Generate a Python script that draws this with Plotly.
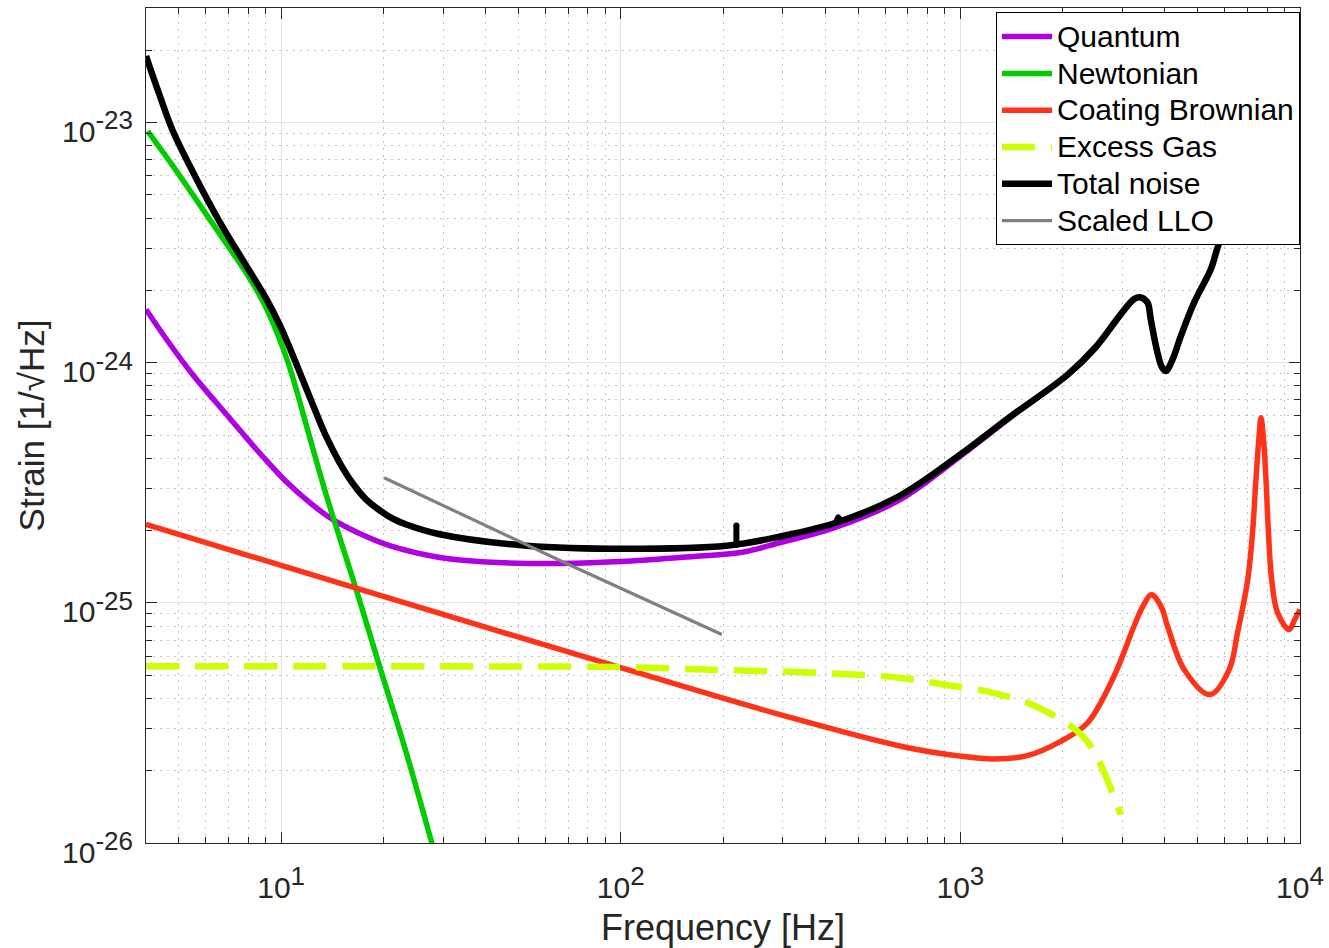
import numpy as np
import plotly.graph_objects as go

# ---------------- data ----------------
quantum_f = [4.0, 4.684, 5.487, 6.43, 7.53, 8.825, 10.34, 12.12, 14.2, 17.21, 20.87, 29.3, 40.2, 66.2, 104,
             164, 225, 294, 424, 665, 1000, 1400, 2065, 2500, 2965, 3246, 3396, 3556, 3636, 3805, 3920,
             4027, 4213, 4457, 4877, 5463, 5848, 7713, 10000]
quantum_h = [1.667e-24, 1.205e-24, 8.93e-25, 6.84e-25, 5.27e-25, 4.07e-25, 3.20e-25, 2.62e-25, 2.22e-25,
             1.93e-25, 1.73e-25, 1.545e-25, 1.48e-25, 1.46e-25, 1.49e-25, 1.56e-25, 1.62e-25, 1.78e-25,
             2.05e-25, 2.69e-25, 4.08e-25, 5.90e-25, 8.85e-25, 1.15e-24, 1.58e-24, 1.84e-24, 1.87e-24,
             1.78e-24, 1.51e-24, 1.10e-24, 9.60e-25, 9.23e-25, 1.03e-24, 1.29e-24, 1.78e-24, 2.45e-24,
             3.27e-24, 6.10e-24, 1.01e-23]

newton_f = [4.043, 4.764, 5.615, 6.654, 7.886, 8.515, 9.11, 9.75, 10.46, 11.19, 11.98, 13.57, 16.64,
            19.49, 23.37, 27.69, 30.3]
newton_h = [9.22e-24, 6.70e-24, 4.79e-24, 3.37e-24, 2.37e-24, 1.98e-24, 1.65e-24, 1.32e-24, 1.01e-24,
            7.38e-25, 5.22e-25, 2.82e-25, 1.135e-25, 5.44e-26, 2.37e-26, 1.016e-26, 6.4e-27]

coating_f = [4, 17, 100, 300, 667, 1000, 1254, 1573, 1974, 2366, 2833, 3245, 3437, 3654, 3906, 4074, 4563,
             5437, 6186, 6546, 7016, 7260, 7418, 7564, 7674, 7810, 7940, 8066, 8253, 8592, 9294, 9645, 10000]
coating_h = [2.12e-25, 1.14e-25, 5.37e-26, 3.40e-26, 2.53e-26, 2.30e-26, 2.24e-26, 2.31e-26, 2.65e-26,
             3.16e-26, 4.95e-26, 7.99e-26, 9.60e-26, 1.08e-25, 9.60e-26, 7.99e-26, 5.27e-26,
             4.15e-26, 5.27e-26, 7.50e-26, 1.25e-25, 2.02e-25, 3.27e-25, 4.79e-25, 5.90e-25, 4.79e-25,
             3.27e-25, 2.02e-25, 1.25e-25, 9.08e-26, 7.74e-26, 8.52e-26, 9.38e-26]

gas_f = [4, 30, 100, 200, 400, 667, 893, 1250, 1722, 2343, 2850, 2966]
gas_h = [5.44e-26, 5.44e-26, 5.40e-26, 5.25e-26, 5.10e-26, 4.87e-26, 4.57e-26, 4.22e-26, 3.63e-26,
         2.69e-26, 1.53e-26, 1.31e-26]

total_f = [4.0, 4.377, 4.789, 5.487, 6.577, 7.886, 9.03, 9.886, 10.58, 12.39, 13.57, 14.86, 16.26, 17.81,
           19.49, 21.34, 23.37, 29.3, 52.8, 104, 205, 295, 432, 665, 1000, 1400, 2065, 2500, 2965, 3246,
           3396, 3556, 3636, 3805, 3920, 4027, 4213, 4457, 4877, 5463, 5848, 7713, 10000]
total_h = [1.894e-23, 1.312e-23, 9.29e-24, 6.26e-24, 3.88e-24, 2.54e-24, 1.853e-24, 1.445e-24, 1.159e-24,
           6.70e-25, 4.93e-25, 3.84e-25, 3.14e-25, 2.69e-25, 2.43e-25, 2.24e-25, 2.12e-25, 1.93e-25,
           1.73e-25, 1.68e-25, 1.73e-25, 1.89e-25, 2.16e-25, 2.80e-25, 4.15e-25, 5.95e-25, 8.90e-25,
           1.16e-24, 1.59e-24, 1.84e-24, 1.87e-24, 1.78e-24, 1.51e-24, 1.10e-24, 9.60e-25, 9.23e-25,
           1.03e-24, 1.29e-24, 1.78e-24, 2.45e-24, 3.27e-24, 6.10e-24, 1.01e-23]

# narrow lines on the total-noise curve
spike1_f = [219, 219]
spike1_h = [1.74e-25, 2.10e-25]
spike2_f = [430, 437, 444]
spike2_h = [2.14e-25, 2.27e-25, 2.17e-25]

llo_f = [20.1, 66.2, 198.4]
llo_h = [3.32e-25, 1.50e-25, 7.38e-26]

legend_names = ["Quantum", "Newtonian", "Coating Brownian", "Excess Gas", "Total noise", "Scaled LLO"]

SUP = "<sup><span style='font-size:26px'>{}</span></sup>"
x_major = [10, 100, 1000, 10000]
x_major_text = ["10" + SUP.format(e) for e in ["1", "2", "3", "4"]]
y_major = [1e-26, 1e-25, 1e-24, 1e-23]
y_major_text = ["10" + SUP.format(e) for e in ["-26", "-25", "-24", "-23"]]

x_minor = [m * 10 ** d for d in range(0, 4) for m in range(2, 10) if 4 <= m * 10 ** d <= 10000]
y_minor = [m * 10.0 ** d for d in range(-26, -22) for m in range(2, 10) if m * 10.0 ** d <= 3e-23]

FONT = "Liberation Sans, Arial, Helvetica, sans-serif"
AX = "#262626"
SMOOTH = 1.0


def lname(s):
    return "<span style='font-size:30px'>" + s + "</span>"


fig = go.Figure()
fig.add_trace(go.Scatter(x=quantum_f, y=quantum_h, mode="lines", name=lname(legend_names[0]),
                         line=dict(color="rgb(175,0,225)", width=5.5, shape="spline", smoothing=SMOOTH)))
fig.add_trace(go.Scatter(x=newton_f, y=newton_h, mode="lines", name=lname(legend_names[1]),
                         line=dict(color="rgb(0,204,0)", width=5.5, shape="spline", smoothing=SMOOTH)))
fig.add_trace(go.Scatter(x=coating_f, y=coating_h, mode="lines", name=lname(legend_names[2]),
                         line=dict(color="rgb(255,51,26)", width=5.5, shape="spline", smoothing=SMOOTH)))
fig.add_trace(go.Scatter(x=gas_f, y=gas_h, mode="lines", name=lname(legend_names[3]),
                         line=dict(color="rgb(204,255,0)", width=6.5, dash="33px,16px",
                                   shape="spline", smoothing=SMOOTH)))
fig.add_trace(go.Scatter(x=total_f, y=total_h, mode="lines", name=lname(legend_names[4]),
                         legendgroup="total",
                         line=dict(color="black", width=6.5, shape="spline", smoothing=SMOOTH)))
fig.add_trace(go.Scatter(x=spike1_f, y=spike1_h, mode="lines+markers", legendgroup="total", showlegend=False,
                         line=dict(color="black", width=6.0),
                         marker=dict(color="black", size=6, line=dict(width=0))))
fig.add_trace(go.Scatter(x=spike2_f, y=spike2_h, mode="lines", legendgroup="total", showlegend=False,
                         line=dict(color="black", width=6.0, shape="spline", smoothing=1.0)))
fig.add_trace(go.Scatter(x=llo_f, y=llo_h, mode="lines", name=lname(legend_names[5]),
                         line=dict(color="rgb(128,128,128)", width=3.2)))

axis_common = dict(
    type="log", ticks="inside", ticklen=11, tickwidth=1, tickcolor=AX,
    showline=True, linecolor=AX, linewidth=1, mirror="ticks",
    showgrid=True, gridcolor="#e3e3e3", gridwidth=1, zeroline=False,
    tickfont=dict(family=FONT, size=30, color=AX),
)

fig.update_xaxes(
    **axis_common,
    range=[np.log10(4), 4],
    tickmode="array", tickvals=x_major, ticktext=x_major_text,
    ticklabelstandoff=18,
    minor=dict(tickmode="array", tickvals=x_minor, ticks="inside", ticklen=6, tickcolor=AX,
               showgrid=True, gridcolor="#c4c4c4", griddash="2px,5px", gridwidth=1),
    title=dict(text="Frequency [Hz]", font=dict(family=FONT, size=36, color=AX), standoff=12),
)
fig.update_yaxes(
    **axis_common,
    range=[-26, np.log10(3e-23)],
    tickmode="array", tickvals=y_major, ticktext=y_major_text,
    ticklabelstandoff=6, ticklabelshift=9,
    minor=dict(tickmode="array", tickvals=y_minor, ticks="inside", ticklen=6, tickcolor=AX,
               showgrid=True, gridcolor="#c4c4c4", griddash="2px,5px", gridwidth=1),
    title=dict(text="Strain [1/\u221aHz]", font=dict(family=FONT, size=35, color=AX), standoff=6),
)

fig.update_layout(
    width=1329, height=948,
    margin=dict(l=146, r=29, t=8, b=105, autoexpand=False),
    paper_bgcolor="white", plot_bgcolor="white",
    showlegend=True,
    legend=dict(x=1, y=0.995, xanchor="right", yanchor="top",
                bgcolor="white", bordercolor="black", borderwidth=1,
                font=dict(family=FONT, size=26, color="black"),
                itemwidth=50, tracegroupgap=0),
)

fig.write_html("out.html", config={"displayModeBar": False},
               post_script="document.body.style.margin='0px';")
